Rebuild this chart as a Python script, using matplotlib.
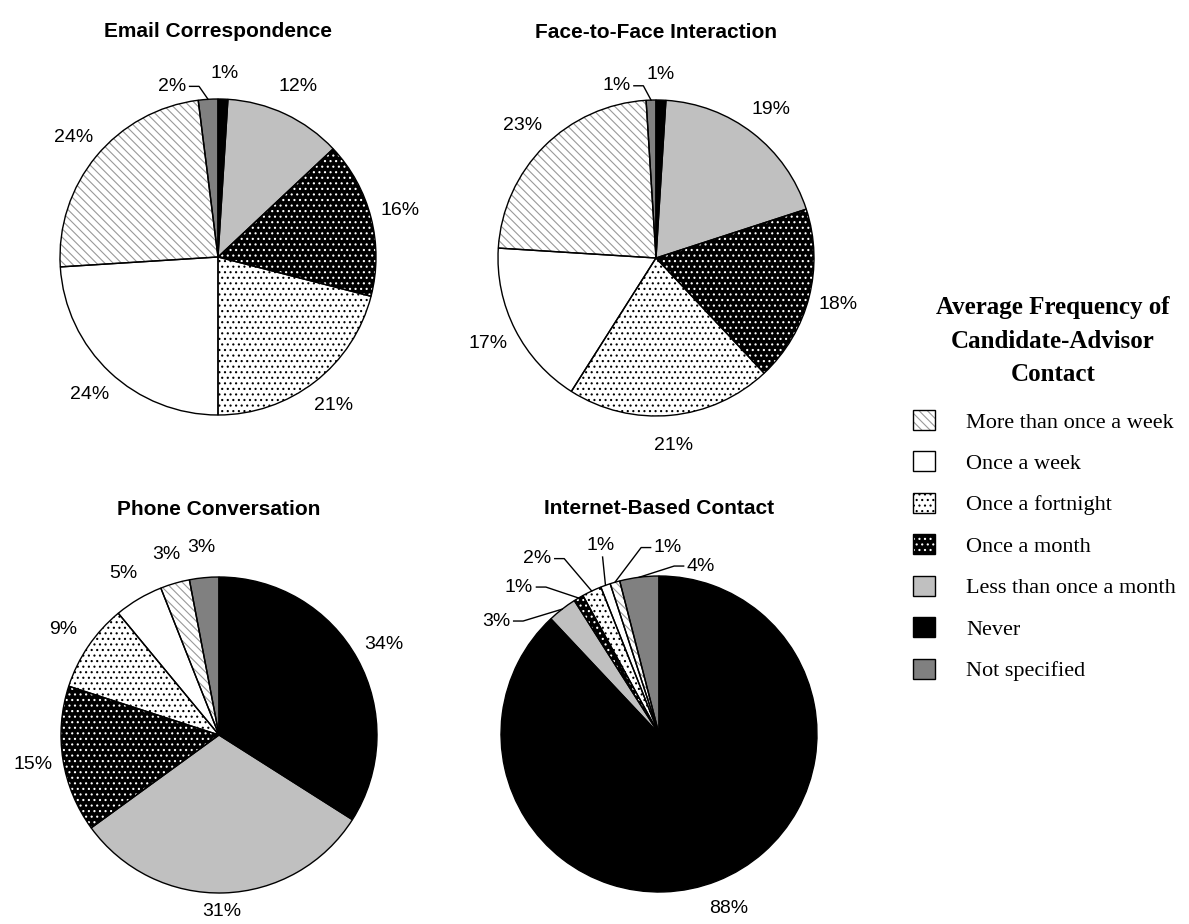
import numpy as np
import matplotlib
matplotlib.use('Agg')
import matplotlib.pyplot as plt
from matplotlib.patches import Patch
from matplotlib.font_manager import FontProperties

# slices go clockwise from 12 o'clock in this order
cats = ['Never', 'Less than once a month', 'Once a month', 'Once a fortnight',
        'Once a week', 'More than once a week', 'Not specified']
email = [1, 12, 16, 21, 24, 24, 2]
face = [1, 19, 18, 21, 17, 23, 1]
phone = [34, 31, 15, 9, 5, 3, 3]
internet = [88, 3, 1, 2, 1, 1, 4]
titles = ['Email Correspondence', 'Face-to-Face Interaction',
          'Phone Conversation', 'Internet-Based Contact']
legend_order = ['More than once a week', 'Once a week', 'Once a fortnight',
                'Once a month', 'Less than once a month', 'Never', 'Not specified']
legend_title = 'Average Frequency of\nCandidate-Advisor\nContact'

# look of each category
fills = {'Never': 'black', 'Less than once a month': '#c0c0c0', 'Once a month': 'black',
         'Once a fortnight': 'white', 'Once a week': 'white',
         'More than once a week': 'white', 'Not specified': '#808080'}
hatches = {'Once a month': '...', 'Once a fortnight': '...', 'More than once a week': '\\\\\\\\'}
hatch_cols = {'Once a month': 'white', 'Once a fortnight': 'black',
              'More than once a week': '#999999'}

plt.rcParams['hatch.linewidth'] = 0.8
W, H = 1189, 924
fig = plt.figure(figsize=(W / 100, H / 100), dpi=100)
fig.patch.set_facecolor('white')

lab_font = dict(family='Liberation Sans', size=14)
R = 158.0      # pie radius in px
S = 420.0      # axes box in px
centers = [(218, 257), (656, 258), (219, 735), (659, 734)]

# labels moved off the default spot: slice -> (x, y, leader style)
moved = [
    {0: (0.04, 1.16, None), 6: (-0.29, 1.08, 'h')},
    {0: (0.03, 1.16, None), 6: (-0.25, 1.09, 'h')},
    {1: (0.02, -1.12, None)},
    {1: (-1.03, 0.715, 'h'), 2: (-0.886, 0.93, 'h'), 3: (-0.77, 1.11, 'h'),
     4: (-0.367, 1.19, 'v'), 5: (0.057, 1.18, 'h'), 6: (0.266, 1.063, 'h')},
]

for k, vals in enumerate([email, face, phone, internet]):
    cx, cy = centers[k]
    ax = fig.add_axes([(cx - S / 2) / W, (H - cy - S / 2) / H, S / W, S / H])
    wedges, _, pcts = ax.pie(vals, startangle=90, counterclock=False,
                             colors=[fills[c] for c in cats],
                             hatch=[hatches.get(c, '') for c in cats],
                             autopct='%.0f%%', pctdistance=1.19,
                             textprops=lab_font, wedgeprops=dict(linewidth=0))
    for w, c in zip(wedges, cats):
        w.set_edgecolor(hatch_cols.get(c, fills[c]))
    # outlines on top
    ax.pie(vals, startangle=90, counterclock=False,
           wedgeprops=dict(fill=False, edgecolor='black', linewidth=1.0))
    for i, (tx, ty, style) in moved[k].items():
        pcts[i].set_position((tx, ty))
        if style is None:
            continue
        w = wedges[i]
        ang = np.deg2rad((w.theta1 + w.theta2) / 2)
        ex, ey = np.cos(ang), np.sin(ang)
        if style == 'h':
            sgn = 1 if ex > tx else -1
            x0 = tx + sgn * 0.11
            xs, ys = [x0, x0 + sgn * 0.06, ex], [ty, ty, ey]
        else:
            xs, ys = [tx + 0.01, ex], [ty - 0.07, ey]
        ax.plot(xs, ys, color='black', lw=1.0)
    lim = S / 2 / R
    ax.set_xlim(-lim, lim)
    ax.set_ylim(-lim, lim)
    ax.set_aspect('equal')
    ax.axis('off')
    ax.text(0, 1.43, titles[k], ha='center', va='center',
            family='Liberation Sans', fontweight='bold', size=15)

handles = []
for c in legend_order:
    base = Patch(facecolor=fills[c], hatch=hatches.get(c, ''),
                 edgecolor=hatch_cols.get(c, fills[c]), linewidth=0)
    edge = Patch(fill=False, edgecolor='black', linewidth=1.0)
    handles.append((base, edge))

fig.text(1053 / W, 1 - 341 / H, legend_title, ha='center', va='center',
         multialignment='center', linespacing=1.6,
         family='Liberation Serif', size=18, weight='bold')

leg = fig.legend(handles, legend_order, loc='upper left',
                 bbox_to_anchor=(913 / W, 1 - 410 / H), frameon=False,
                 prop=FontProperties(family='Liberation Serif', size=16),
                 handlelength=1.0, handleheight=1.0, handletextpad=1.4,
                 labelspacing=0.85, borderpad=0, borderaxespad=0)

fig.savefig('out.png', dpi=100, facecolor='white')
